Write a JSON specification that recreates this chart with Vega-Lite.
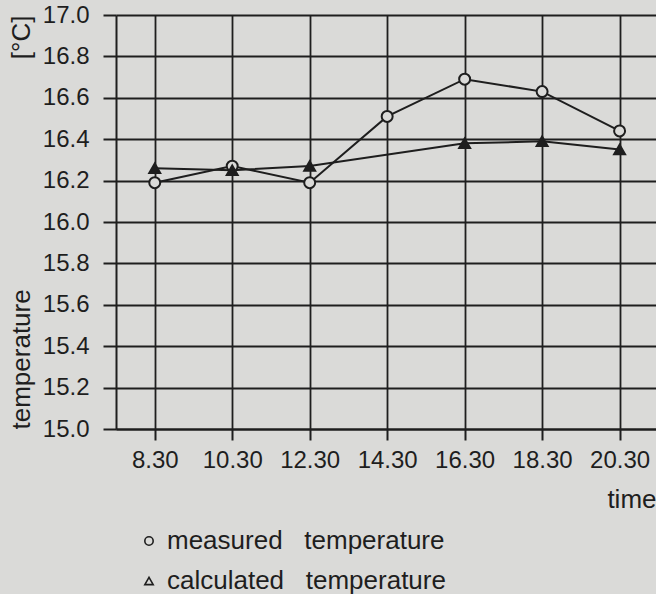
{
  "$schema": "https://vega.github.io/schema/vega-lite/v6.json",
  "width": 540,
  "height": 414,
  "padding": {"left": 8, "top": 3, "right": 0, "bottom": 0},
  "background": "#dadad8",
  "config": {
    "view": {"stroke": null},
    "font": "Liberation Sans",
    "axis": {
      "domainColor": "#1e1e1e",
      "domainWidth": 2,
      "tickColor": "#1e1e1e",
      "tickWidth": 2,
      "gridColor": "#1e1e1e",
      "gridOpacity": 1,
      "gridWidth": 1.8,
      "labelColor": "#1e1e1e",
      "titleColor": "#1e1e1e",
      "labelFont": "Liberation Sans",
      "titleFont": "Liberation Sans",
      "titleFontWeight": "normal"
    }
  },
  "datasets": {
    "temps": [
      {"time": 8.5, "series": "measured temperature", "temperature": 16.19},
      {"time": 10.5, "series": "measured temperature", "temperature": 16.27},
      {"time": 12.5, "series": "measured temperature", "temperature": 16.19},
      {"time": 14.5, "series": "measured temperature", "temperature": 16.51},
      {"time": 16.5, "series": "measured temperature", "temperature": 16.69},
      {"time": 18.5, "series": "measured temperature", "temperature": 16.63},
      {"time": 20.5, "series": "measured temperature", "temperature": 16.44},
      {"time": 8.5, "series": "calculated temperature", "temperature": 16.26},
      {"time": 10.5, "series": "calculated temperature", "temperature": 16.25},
      {"time": 12.5, "series": "calculated temperature", "temperature": 16.27},
      {"time": 16.5, "series": "calculated temperature", "temperature": 16.38},
      {"time": 18.5, "series": "calculated temperature", "temperature": 16.39},
      {"time": 20.5, "series": "calculated temperature", "temperature": 16.35}
    ]
  },
  "data": {"name": "temps"},
  "layer": [
    {
      "mark": {"type": "line", "stroke": "#1e1e1e", "strokeWidth": 2},
      "encoding": {
        "x": {
          "field": "time",
          "type": "quantitative",
          "scale": {"domain": [7.5, 21.44], "nice": false, "zero": false},
          "axis": {
            "values": [8.5, 10.5, 12.5, 14.5, 16.5, 18.5, 20.5],
            "labelExpr": "floor(datum.value) + '.30'",
            "grid": true,
            "tickSize": 11,
            "labelFontSize": 24,
            "labelPadding": 8,
            "title": "time",
            "titleFontSize": 26,
            "titleAnchor": "end",
            "titlePadding": 14
          }
        },
        "y": {
          "field": "temperature",
          "type": "quantitative",
          "scale": {"domain": [15.0, 17.0], "nice": false, "zero": false},
          "axis": {
            "orient": "left",
            "values": [15.0, 15.2, 15.4, 15.6, 15.8, 16.0, 16.2, 16.4, 16.6, 16.8, 17.0],
            "format": ".1f",
            "grid": true,
            "tickSize": 13,
            "labelFontSize": 24,
            "labelPadding": 14,
            "title": "temperature",
            "titleFontSize": 26,
            "titleAnchor": "start",
            "titlePadding": 8
          }
        },
        "detail": {"field": "series"}
      }
    },
    {
      "transform": [{"filter": "datum.series === 'measured temperature'"}],
      "mark": {"type": "point", "shape": "circle", "filled": true, "fill": "#dadad8", "strokeWidth": 0, "opacity": 1, "size": 120},
      "encoding": {
        "x": {"field": "time", "type": "quantitative"},
        "y": {"field": "temperature", "type": "quantitative", "axis": null}
      }
    },
    {
      "transform": [{"filter": "datum.series === 'calculated temperature'"}],
      "mark": {"type": "point", "shape": "triangle-up", "filled": true, "fill": "#1e1e1e", "strokeWidth": 0, "opacity": 1, "size": 120},
      "encoding": {
        "x": {"field": "time", "type": "quantitative"},
        "y": {"field": "temperature", "type": "quantitative", "axis": null}
      }
    },
    {
      "mark": {"type": "point", "filled": false, "stroke": "#1e1e1e", "strokeWidth": 2, "opacity": 1, "size": 120},
      "encoding": {
        "x": {"field": "time", "type": "quantitative"},
        "y": {"field": "temperature", "type": "quantitative", "axis": null},
        "shape": {
          "field": "series",
          "type": "nominal",
          "scale": {"domain": ["measured temperature", "calculated temperature"], "range": ["circle", "triangle-up"]},
          "legend": {
            "orient": "none",
            "legendX": 20,
            "legendY": 513,
            "title": null,
            "direction": "vertical",
            "labelFontSize": 26,
            "labelColor": "#1e1e1e",
            "labelFont": "Liberation Sans",
            "labelOffset": 5,
            "labelLimit": 500,
            "symbolSize": 70,
            "symbolStrokeColor": "#1e1e1e",
            "symbolStrokeWidth": 1.6,
            "rowPadding": 14,
            "labelExpr": "replace(datum.label, ' ', '\u00a0\u00a0\u00a0')"
          }
        }
      }
    },
    {
      "mark": {"type": "point", "opacity": 0},
      "encoding": {
        "x": {"field": "time", "type": "quantitative"},
        "y": {
          "field": "temperature",
          "type": "quantitative",
          "axis": {
            "orient": "left",
            "grid": false,
            "domain": false,
            "ticks": false,
            "labels": false,
            "title": "[°C]",
            "titleFontSize": 26,
            "titleAnchor": "end",
            "titlePadding": 82
          }
        }
      }
    }
  ],
  "resolve": {"axis": {"y": "independent"}}
}
